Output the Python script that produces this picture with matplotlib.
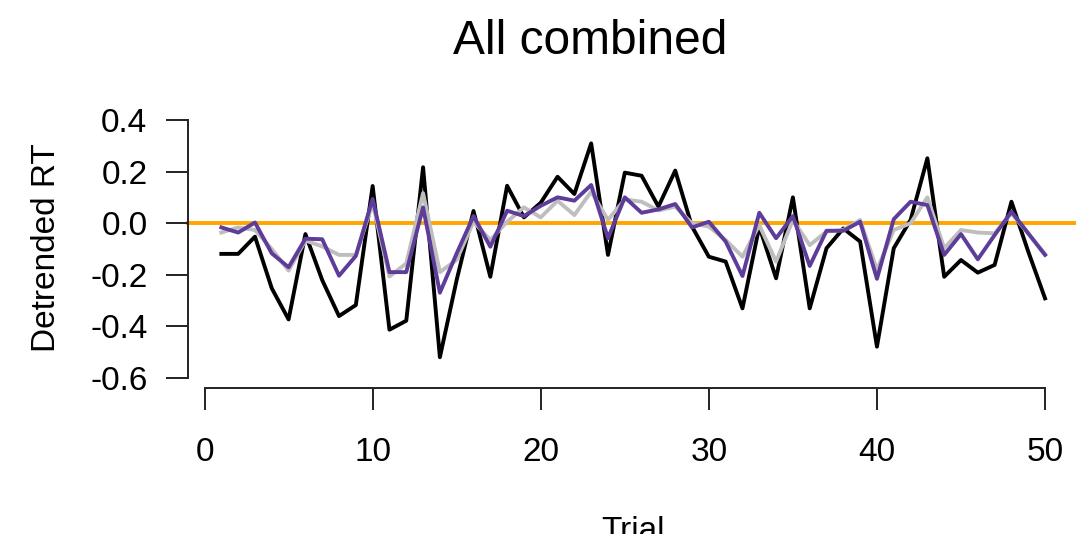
import matplotlib
matplotlib.use("Agg")
import matplotlib.pyplot as plt

plt.rcParams["font.family"] = ["Liberation Sans", "DejaVu Sans"]

trials = list(range(1, 51))

rt_raw = [-0.119, -0.119, -0.052, -0.253, -0.374, -0.042, -0.221, -0.361, -0.318, 0.145,
          -0.414, -0.379, 0.218, -0.521, -0.22, 0.048, -0.208, 0.146, 0.023, 0.08,
          0.181, 0.114, 0.311, -0.123, 0.197, 0.185, 0.065, 0.205, -0.013, -0.13,
          -0.149, -0.331, -0.013, -0.214, 0.101, -0.331, -0.097, -0.02, -0.071, -0.48,
          -0.097, 0.013, 0.253, -0.208, -0.143, -0.192, -0.162, 0.084, -0.11, -0.292]

rt_gray = [-0.036, -0.016, -0.026, -0.1, -0.184, -0.067, -0.09, -0.123, -0.123, 0.077,
           -0.207, -0.156, 0.117, -0.19, -0.142, 0.006, -0.065, 0.006, 0.062, 0.023,
           0.088, 0.032, 0.123, 0.013, 0.093, 0.084, 0.05, 0.065, 0.0, -0.013,
           -0.065, -0.13, -0.007, -0.149, 0.013, -0.085, -0.032, -0.026, 0.013, -0.181,
           -0.026, 0.0, 0.101, -0.097, -0.026, -0.036, -0.039, 0.039, -0.04, -0.12]

rt_purple = [-0.016, -0.036, 0.003, -0.117, -0.171, -0.06, -0.062, -0.204, -0.127, 0.095,
             -0.19, -0.19, 0.062, -0.27, -0.117, 0.028, -0.091, 0.049, 0.028, 0.068,
             0.101, 0.088, 0.149, -0.058, 0.101, 0.041, 0.054, 0.075, -0.016, 0.006,
             -0.071, -0.205, 0.041, -0.058, 0.028, -0.166, -0.029, -0.029, 0.006, -0.216,
             0.016, 0.084, 0.071, -0.123, -0.042, -0.14, -0.046, 0.045, -0.039, -0.123]

x_ticks = [0, 10, 20, 30, 40, 50]
y_ticks = [0.4, 0.2, 0.0, -0.2, -0.4, -0.6]
y_tick_labels = ["0.4", "0.2", "0.0", "-0.2", "-0.4", "-0.6"]

W, H = 1076, 534
fig = plt.figure(figsize=(W / 100, H / 100), dpi=100)

left_px, right_px, top_px, bottom_px = 188.4, 1078.0, 110.2, 387.8
ax = fig.add_axes([left_px / W, 1 - bottom_px / H,
                   (right_px - left_px) / W, (bottom_px - top_px) / H])

ax.set_xlim(-0.96, 51.96)
ax.set_ylim(-0.64, 0.44)

lw = 2.8
ax.axhline(0, color="#FFA500", lw=lw, zorder=1, clip_on=False)
ax.plot(trials, rt_raw, color="black", lw=lw, zorder=2)
ax.plot(trials, rt_gray, color="#BEBEBE", lw=lw, zorder=3)
ax.plot(trials, rt_purple, color="#5E3C99", lw=lw, zorder=4)

for side in ("top", "right"):
    ax.spines[side].set_visible(False)
ax.spines["left"].set_bounds(-0.6, 0.4)
ax.spines["bottom"].set_bounds(0, 50)
for side in ("left", "bottom"):
    ax.spines[side].set_linewidth(1.4)
    ax.spines[side].set_color("#222222")

ax.set_xticks(x_ticks)
ax.set_xticklabels([str(t) for t in x_ticks])
ax.set_yticks(y_ticks)
ax.set_yticklabels(y_tick_labels)
ax.tick_params(axis="both", direction="out", length=15.5, width=1.4,
               color="#222222", labelsize=24)
ax.tick_params(axis="x", pad=20)
ax.tick_params(axis="y", pad=14)

fig.text(590 / W, 1 - 42 / H, "All combined", fontsize=34.5,
         ha="center", va="center")
fig.text(47 / W, 1 - 247.5 / H, "Detrended RT", fontsize=24,
         rotation=90, ha="center", va="center")
fig.text(633 / W, 1 - 516 / H, "Trial", fontsize=24,
         ha="center", va="top")

fig.savefig("out.png", dpi=100)
